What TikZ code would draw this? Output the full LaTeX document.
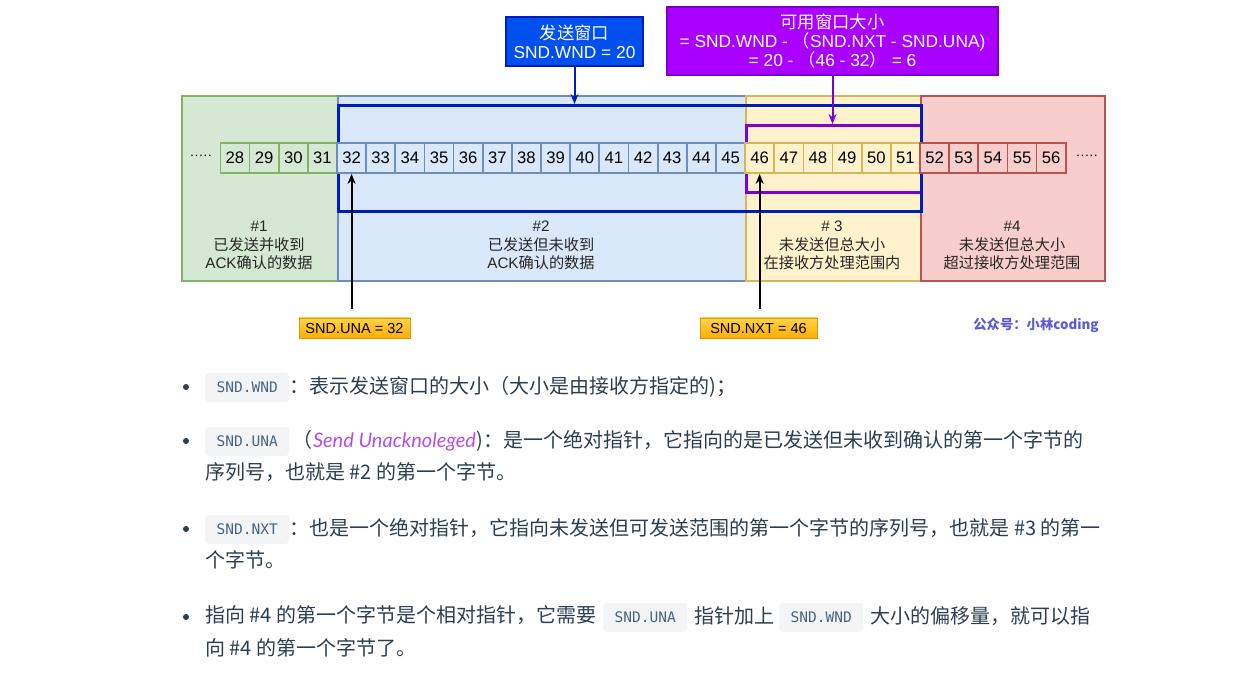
\documentclass[tikz,border=0pt]{standalone}
\usepackage{fontspec}
\setmainfont{Liberation Sans}
\newfontfamily\cjk{Noto Sans CJK SC}
\newfontfamily\monof{DejaVu Sans Mono}
\newfontfamily\latof{Lato}
\usetikzlibrary{arrows.meta,positioning}
\definecolor{gfill}{HTML}{D5E8D4}\definecolor{gline}{HTML}{82B366}
\definecolor{bfill}{HTML}{DAE8FC}\definecolor{bline}{HTML}{6C8EBF}
\definecolor{yfill}{HTML}{FFF2CC}\definecolor{yline}{HTML}{D6B656}
\definecolor{rfill}{HTML}{F8CECC}\definecolor{rline}{HTML}{B85450}
\definecolor{winblue}{HTML}{001DBC}
\definecolor{boxblue}{HTML}{0050EF}
\definecolor{boxpurple}{HTML}{AA00FF}
\definecolor{purpline}{HTML}{7700CC}
\definecolor{availc}{HTML}{8000D0}
\definecolor{txt}{HTML}{2C3E50}
\definecolor{codebg}{HTML}{F3F4F5}
\definecolor{codetxt}{HTML}{476582}
\definecolor{itc}{HTML}{B34FE8}
\definecolor{wm}{HTML}{5B5BD6}
\definecolor{orgtop}{HTML}{FFD44D}
\definecolor{orgbot}{HTML}{FFAE00}
\definecolor{orgline}{HTML}{D79B00}
\tikzset{
  region/.style={draw, line width=1.2pt, inner sep=0, anchor=north west, minimum height=138.75pt},
  cell/.style={draw, line width=1.3pt, inner sep=0, minimum width=21.86pt, minimum height=22.5pt, font=\fontsize{12.5}{14}\selectfont},
  rlabel/.style={align=center, font=\fontsize{11.4}{14}\selectfont, text=black!85},
  topbox/.style={draw, line width=0.8pt, text=white, align=center, inner sep=0, font=\fontsize{13}{14.5}\selectfont},
  ptr/.style={line width=1.5pt, -{Stealth[length=7.5pt,width=6pt]}},
  olabel/.style={draw=orgline, line width=0.6pt, top color=orgtop, bottom color=orgbot, inner sep=0, minimum height=15pt, font=\fontsize{10.9}{12}\selectfont},
  codebox/.style={fill=codebg, rounded corners=3pt, text=codetxt, font=\monof\fontsize{10.9}{12}\selectfont, minimum width=63pt, minimum height=21.75pt, inner sep=0, anchor=west},
  body/.style={text=txt, font=\cjk\fontsize{15}{18}\selectfont, inner sep=0, anchor=west, text height=12pt, text depth=3.5pt},
  bulletdot/.style={circle, fill=txt, inner sep=0, minimum size=4.5pt},
}
\begin{document}
\begin{tikzpicture}[x=0.75pt,y=-0.75pt]
\useasboundingbox[fill=white] (0,0) rectangle (1255,680);
% regions
\node[region, fill=gfill, draw=gline, minimum width=117pt] (r1) at (181,95) {};
\node[region, fill=bfill, draw=bline, minimum width=306pt] (r2) at (337,95) {};
\node[region, fill=yfill, draw=yline, minimum width=131.25pt] (r3) at (745,95) {};
\node[region, fill=rfill, draw=rline, minimum width=138pt] (r4) at (920,95) {};
% windows
\node[draw=availc, line width=2.6pt, inner sep=0, anchor=north west, minimum width=131.25pt, minimum height=50.25pt] (avail) at (745,124) {};
\node[draw=winblue, line width=2.6pt, inner sep=0, anchor=north west, minimum width=437.25pt, minimum height=79.5pt] (win) at (337,104) {};
% cells
\foreach \n in {28,...,31} \node[cell, fill=gfill, draw=gline] (c\n) at ({234.975+(\n-28)*29.15},158) {\n};
\foreach \n in {32,...,45} \node[cell, fill=bfill, draw=bline] (c\n) at ({234.975+(\n-28)*29.15},158) {\n};
\foreach \n in {46,...,51} \node[cell, fill=yfill, draw=yline] (c\n) at ({234.975+(\n-28)*29.15},158) {\n};
\foreach \n in {52,...,56} \node[cell, fill=rfill, draw=rline] (c\n) at ({234.975+(\n-28)*29.15},158) {\n};
\node[font=\fontsize{10}{12}\selectfont] (dl) at (201,157) {·····};
\node[font=\fontsize{10}{12}\selectfont] (dr) at (1087,157) {·····};
% region labels
\node[rlabel] (l1) at (259,245.5) {\#1\\{\cjk 已发送并收到}\\ACK{\cjk 确认的数据}};
\node[rlabel] (l2) at (541,245.5) {\#2\\{\cjk 已发送但未收到}\\ACK{\cjk 确认的数据}};
\node[rlabel] (l3) at (832,245.5) {\# 3\\{\cjk 未发送但总大小}\\{\cjk 在接收方处理范围内}};
\node[rlabel] (l4) at (1012,245.5) {\#4\\{\cjk 未发送但总大小}\\{\cjk 超过接收方处理范围}};
% top boxes
\node[topbox, fill=boxblue, draw=winblue, minimum width=102.75pt, minimum height=36.75pt] (wndbox) at (574.5,41.5) {{\cjk 发送窗口}\\SND.WND = 20};
\node[topbox, fill=boxpurple, draw=purpline, minimum width=248.25pt, minimum height=51pt] (availbox) at (832.5,41) {{\cjk 可用窗口大小}\\= SND.WND - {\cjk （}SND.NXT - SND.UNA)\\= 20 - {\cjk （}46 - 32{\cjk ）} = 6};
\draw[ptr, winblue] (wndbox.south) -- (wndbox.south |- win.north);
\draw[ptr, availc] (availbox.south) -- (availbox.south |- avail.north);
% pointers
\node[olabel, minimum width=83.25pt] (unalbl) at (354.5,328) {SND.UNA = 32};
\node[olabel, minimum width=87.75pt] (nxtlbl) at (758.5,328) {SND.NXT = 46};
\coordinate (unatail) at (c32.south |- 0,309);
\coordinate (nxttail) at (c46.south |- 0,309);
\draw[ptr, black] (unatail) -- (c32.south);
\draw[ptr, black] (nxttail) -- (c46.south);
\node[font=\cjk\bfseries\fontsize{10}{12}\selectfont, text=wm] (wmark) at (1036,325) {公众号：小林coding};
% text
\node[bulletdot] (b1) at (186,387) {};
\node[codebox] (k1) at (205,387.5) {SND.WND};
\node[body, right=0pt of k1] (t1) {：表示发送窗口的大小（大小是由接收方指定的)；};
\node[bulletdot] (b2) at (186,441) {};
\node[codebox] (k2) at (205,441.5) {SND.UNA};
\node[body, right=2pt of k2] (t2a) {（};
\node[body, right=0pt of t2a, text=itc, font=\latof\itshape\fontsize{15}{18}\selectfont] (t2b) {Send Unacknoleged};
\node[body, right=0pt of t2b] (t2c) {)：是一个绝对指针，它指向的是已发送但未收到确认的第一个字节的};
\node[body] (t3) at (205,474) {序列号，也就是 \#2 的第一个字节。};
\node[bulletdot] (b4) at (186,529) {};
\node[codebox] (k4) at (205,529.5) {SND.NXT};
\node[body, right=0pt of k4] (t4) {：也是一个绝对指针，它指向未发送但可发送范围的第一个字节的序列号，也就是 \#3 的第一};
\node[body] (t5) at (205,562) {个字节。};
\node[bulletdot] (b6) at (186,617) {};
\node[body] (t6a) at (205,617) {指向 \#4 的第一个字节是个相对指针，它需要};
\node[codebox] (k6a) at (603,617.5) {SND.UNA};
\node[body, right=5pt of k6a] (t6b) {指针加上};
\node[codebox] (k6b) at (779,617.5) {SND.WND};
\node[body, right=5pt of k6b] (t6c) {大小的偏移量，就可以指};
\node[body] (t7) at (205,650) {向 \#4 的第一个字节了。};
\end{tikzpicture}
\end{document}
